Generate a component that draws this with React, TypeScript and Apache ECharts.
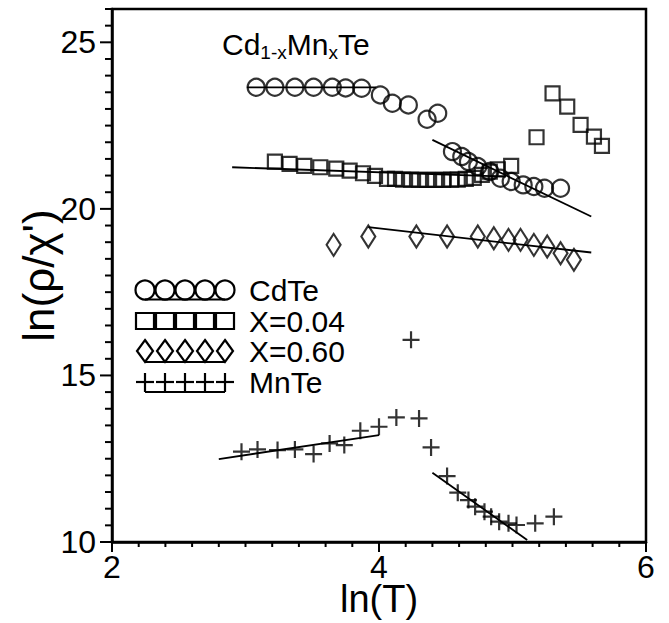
import React, { useEffect, useRef } from "react";
import * as echarts from "echarts";

// ---- data ----
const cdteLnT = [3.08, 3.22, 3.37, 3.51, 3.65, 3.75, 3.87, 4.01, 4.1, 4.22, 4.36, 4.44, 4.55, 4.62, 4.67, 4.74, 4.83, 4.91, 4.99, 5.08, 5.16, 5.24, 5.36];
const cdteVal = [23.65, 23.65, 23.65, 23.65, 23.65, 23.63, 23.62, 23.42, 23.17, 23.12, 22.69, 22.87, 21.72, 21.57, 21.42, 21.27, 21.12, 20.92, 20.82, 20.72, 20.67, 20.62, 20.62];

const x004LnT = [3.22, 3.33, 3.44, 3.56, 3.68, 3.78, 3.88, 3.97, 4.06, 4.12, 4.18, 4.24, 4.3, 4.36, 4.42, 4.48, 4.54, 4.59, 4.65, 4.71, 4.77, 4.83, 4.89, 4.99, 5.18, 5.3, 5.41, 5.51, 5.61, 5.67];
const x004Val = [21.42, 21.35, 21.29, 21.25, 21.21, 21.15, 21.07, 20.99, 20.9, 20.9, 20.88, 20.88, 20.87, 20.87, 20.87, 20.87, 20.88, 20.88, 20.9, 20.93, 21.02, 21.12, 21.19, 21.29, 22.15, 23.47, 23.07, 22.52, 22.17, 21.89];

const x060LnT = [3.66, 3.92, 4.28, 4.51, 4.74, 4.86, 4.97, 5.06, 5.16, 5.26, 5.36, 5.46];
const x060Val = [18.92, 19.17, 19.17, 19.17, 19.17, 19.12, 19.07, 19.07, 18.92, 18.87, 18.67, 18.47];

const mnteLnT = [2.97, 3.09, 3.24, 3.37, 3.51, 3.63, 3.74, 3.86, 4.0, 4.13, 4.24, 4.3, 4.39, 4.51, 4.59, 4.67, 4.72, 4.79, 4.84, 4.9, 4.97, 5.03, 5.17, 5.31];
const mnteVal = [12.71, 12.78, 12.76, 12.78, 12.64, 12.96, 12.91, 13.34, 13.46, 13.74, 16.07, 13.71, 12.84, 11.98, 11.48, 11.26, 11.06, 10.91, 10.76, 10.61, 10.56, 10.51, 10.56, 10.76];

// fitted straight lines: [lnT, value] end points
const cdteFitLow = [[3.01, 23.65], [3.98, 23.65]];
const cdteFitHigh = [[4.4, 22.07], [5.59, 19.77]];
const x004Fit = [[2.9, 21.25], [4.95, 20.97]];
const x060Fit = [[3.92, 19.45], [5.59, 18.69]];
const mnteFitLow = [[2.8, 12.49], [4.0, 13.21]];
const mnteFitHigh = [[4.4, 12.08], [5.11, 10.06]];

const xTicks = [2, 4, 6];
const xMinorStep = 0.2;
const yTicks = [10, 15, 20, 25];
const yTop = 26;
const yMinorStep = 0.5;
const legendNames = ["CdTe", "X=0.04", "X=0.60", "MnTe"];

const FONT = "'Liberation Sans', Arial, Helvetica, sans-serif";
const W = 669;
const H = 623;
const G = { left: 112, right: 23, top: 9, bottom: 81 };

function pairs(xs: number[], ys: number[]) {
  return xs.map((x, i) => [x, ys[i]]);
}

export default function App() {
  const ref = useRef<HTMLDivElement>(null);
  useEffect(() => {
    document.body.style.margin = "0";
    if (!ref.current) return;
    const chart = echarts.init(ref.current, null, { renderer: "svg" });

    const hollow = { color: "rgba(0,0,0,0)", borderColor: "#000", borderWidth: 2.2 };
    const fitLine = (data: number[][]) => ({
      type: "line",
      data,
      symbol: "none",
      lineStyle: { color: "#000", width: 1.8 },
      z: 3,
      silent: true,
    });

    // legend (drawn as graphic decoration)
    const lx = [145, 165, 185, 205, 225];
    const rowY = [290, 321, 351, 382];
    const legendEls: any[] = [];
    const st = { fill: "none", stroke: "#000", lineWidth: 2.2 };
    lx.forEach((cx) => {
      legendEls.push({ type: "circle", shape: { cx, cy: rowY[0], r: 9.5 }, style: st });
      legendEls.push({ type: "rect", shape: { x: cx - 9, y: rowY[1] - 8, width: 18, height: 16 }, style: st });
      legendEls.push({
        type: "polygon",
        shape: { points: [[cx, rowY[2] - 11], [cx + 8, rowY[2]], [cx, rowY[2] + 11], [cx - 8, rowY[2]]] },
        style: st,
      });
      legendEls.push({ type: "line", shape: { x1: cx - 9, y1: rowY[3], x2: cx + 9, y2: rowY[3] }, style: { stroke: "#000", lineWidth: 2.2 } });
      legendEls.push({ type: "line", shape: { x1: cx, y1: rowY[3] - 9, x2: cx, y2: rowY[3] + 10 }, style: { stroke: "#000", lineWidth: 2.2 } });
    });
    const underY = [rowY[0] + 9.5, rowY[1] + 8, rowY[2] + 11, rowY[3] + 10];
    underY.forEach((y) => {
      legendEls.push({ type: "line", shape: { x1: lx[0], y1: y, x2: lx[4], y2: y }, style: { stroke: "#000", lineWidth: 1.8 } });
    });
    legendNames.forEach((name, i) => {
      legendEls.push({
        type: "text",
        x: 249,
        y: rowY[i],
        style: { text: name, fontSize: 30, fontFamily: FONT, fill: "#000", verticalAlign: "middle", align: "left" },
      });
    });

    // axis ticks (decoration along the axes)
    const xMin = xTicks[0];
    const xMax = xTicks[xTicks.length - 1];
    const yMin = yTicks[0];
    const plotW = W - G.left - G.right;
    const plotH = H - G.top - G.bottom;
    const xPix = (v: number) => G.left + ((v - xMin) / (xMax - xMin)) * plotW;
    const yPix = (v: number) => H - G.bottom - ((v - yMin) / (yTop - yMin)) * plotH;
    const tickEls: any[] = [];
    const tickStyle = { stroke: "#000", lineWidth: 2 };
    const axisY = H - G.bottom;
    const axisX = G.left;
    const nx = Math.round((xMax - xMin) / xMinorStep);
    for (let i = 0; i <= nx; i++) {
      const v = Math.round((xMin + i * xMinorStep) * 100) / 100;
      const px = xPix(v);
      const major = xTicks.indexOf(v) >= 0;
      tickEls.push({ type: "line", z: 100, shape: { x1: px, y1: axisY, x2: px, y2: axisY + (major ? 10 : 5) }, style: tickStyle });
    }
    const ny = Math.round((yTop - yMin) / yMinorStep);
    for (let i = 0; i <= ny; i++) {
      const v = Math.round((yMin + i * yMinorStep) * 100) / 100;
      const py = yPix(v);
      const major = yTicks.indexOf(v) >= 0;
      tickEls.push({ type: "line", z: 100, shape: { x1: axisX - (major ? 12 : 7), y1: py, x2: axisX, y2: py }, style: tickStyle });
    }

    chart.setOption({
      animation: false,
      backgroundColor: "#fff",
      title: {
        text: "Cd{s|1-x}Mn{s|x}Te",
        left: 222,
        top: 26,
        padding: 0,
        textStyle: {
          fontSize: 30,
          fontFamily: FONT,
          fontWeight: "normal",
          color: "#000",
          lineHeight: 36,
          rich: {
            s: { fontSize: 19, fontFamily: FONT, color: "#000", lineHeight: 19, verticalAlign: "bottom" },
          },
        },
      },
      grid: {
        left: G.left,
        right: G.right,
        top: G.top,
        bottom: G.bottom,
        outerBoundsMode: "none",
        show: true,
        borderColor: "#000",
        borderWidth: 2.5,
      },
      xAxis: {
        type: "value",
        min: xMin,
        max: xMax,
        interval: xTicks[1] - xTicks[0],
        name: "ln(T)",
        nameLocation: "middle",
        nameGap: 38,
        nameMoveOverlap: false,
        nameTextStyle: { fontSize: 38, fontFamily: FONT, color: "#000" },
        axisLine: { show: true, lineStyle: { color: "#000", width: 2.5 } },
        axisTick: { show: false },
        minorTick: { show: false },
        axisLabel: { fontSize: 32, fontFamily: FONT, color: "#000", margin: 9 },
        splitLine: { show: false },
      },
      yAxis: {
        type: "value",
        min: yMin,
        max: yTop,
        interval: yMinorStep,
        name: "ln(\u03C1/\u03C7')",
        nameLocation: "middle",
        nameGap: 52,
        nameMoveOverlap: false,
        nameTextStyle: { fontSize: 44, fontFamily: FONT, color: "#000" },
        axisLine: { show: true, lineStyle: { color: "#000", width: 2.5 } },
        axisTick: { show: false },
        axisLabel: {
          fontSize: 32,
          fontFamily: FONT,
          color: "#000",
          margin: 16,
          interval: 0,
          hideOverlap: false,
          formatter: (v: number) => (yTicks.indexOf(v) >= 0 ? String(v) : ""),
        },
        splitLine: { show: false },
      },
      graphic: [...legendEls, ...tickEls],
      series: [
        { type: "scatter", name: "CdTe", data: pairs(cdteLnT, cdteVal), symbol: "circle", symbolSize: 17, itemStyle: hollow, z: 2 },
        { type: "scatter", name: "X=0.04", data: pairs(x004LnT, x004Val), symbol: "rect", symbolSize: 14, itemStyle: hollow, z: 2 },
        { type: "scatter", name: "X=0.60", data: pairs(x060LnT, x060Val), symbol: "diamond", symbolSize: [14, 22], itemStyle: hollow, z: 2 },
        {
          type: "scatter",
          name: "MnTe",
          data: pairs(mnteLnT, mnteVal),
          symbol: "path://M0,8L16,8M8,0L8,16",
          symbolSize: 17,
          itemStyle: hollow,
          z: 2,
        },
        fitLine(cdteFitLow),
        fitLine(cdteFitHigh),
        fitLine(x004Fit),
        fitLine(x060Fit),
        fitLine(mnteFitLow),
        fitLine(mnteFitHigh),
      ],
    } as any);

    return () => chart.dispose();
  }, []);
  return <div ref={ref} style={{ width: W, height: H }} />;
}
